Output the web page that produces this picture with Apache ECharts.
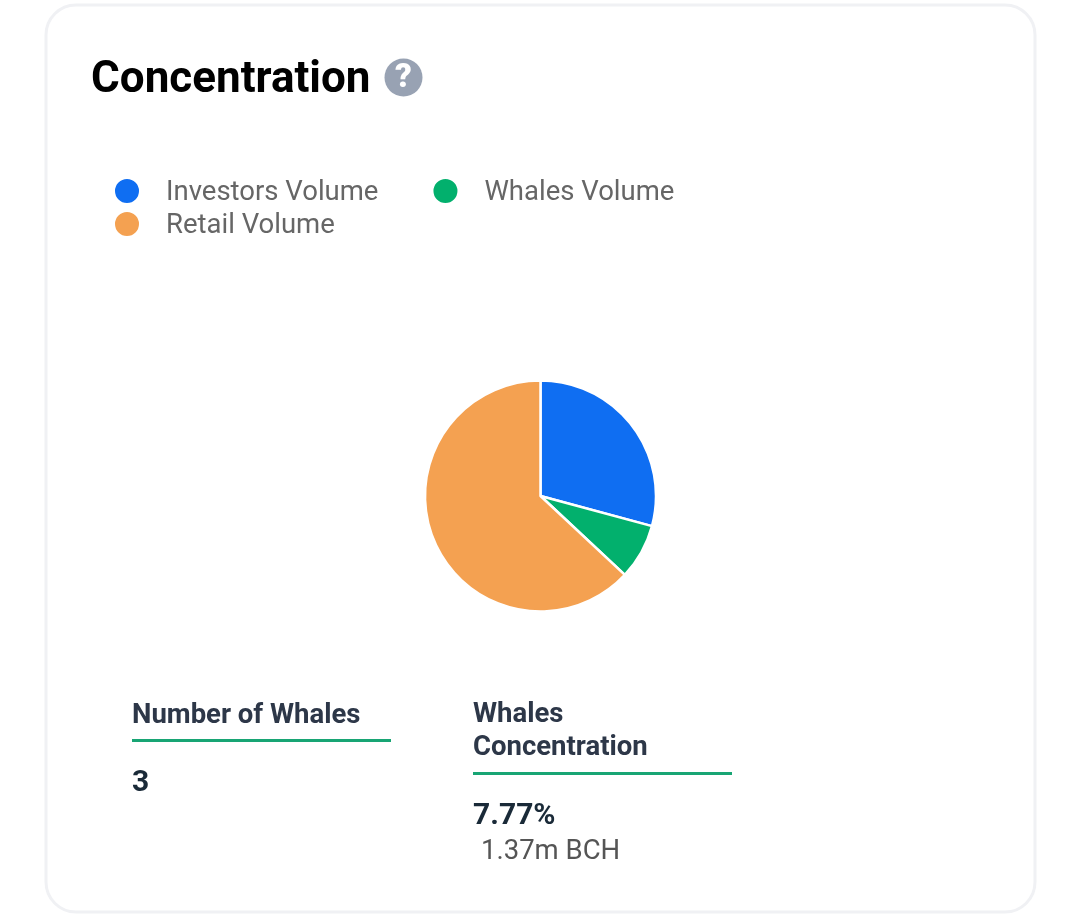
<!DOCTYPE html>
<html>
<head>
<meta charset="utf-8">
<style>html,body{margin:0;padding:0;background:#fff}#chart{width:1073px;height:917px}</style>
<script src="https://cdn.jsdelivr.net/npm/echarts@6/dist/echarts.min.js"></script>
</head>
<body>
<div id="chart"></div>
<script>
const categories = ['Investors Volume', 'Whales Volume', 'Retail Volume'];
const volumeShares = [29.2, 7.77, 63.03];
const sliceColors = ['#0f6ef2', '#02b06d', '#f4a151'];
const titleText = 'Concentration';
const whalesCountLabel = 'Number of Whales';
const whalesCountValue = '3';
const concentrationLabel = 'Whales\nConcentration';
const concentrationValue = '7.77%';
const concentrationAmount = '1.37m BCH';

const font = 'Roboto';
const chart = echarts.init(document.getElementById('chart'), null, {renderer: 'canvas'});
const legendBase = {
  orient: 'horizontal', icon: 'circle', itemWidth: 26, itemHeight: 26, itemGap: 53, padding: 0,
  selectedMode: false,
  formatter: '{a|{name}}',
  textStyle: {rich: {a: {fontFamily: font, fontSize: 27.5, color: '#666666', padding: [4, 0, 0, 21]}}}
};
function txt(x, y, text, size, weight, fill, lineHeight) {
  return {type: 'text', x, y, silent: true, style: {text, fontFamily: font, fontSize: size, fontWeight: weight, fill, lineHeight: lineHeight || size, textVerticalAlign: 'middle'}};
}
chart.setOption({
  animation: false,
  backgroundColor: '#ffffff',
  color: sliceColors,
  legend: [
    Object.assign({}, legendBase, {left: 113, top: 177, data: categories.slice(0, 2)}),
    Object.assign({}, legendBase, {left: 113, top: 210, data: categories.slice(2)})
  ],
  series: [{
    type: 'pie',
    center: [540.5, 496],
    radius: [0, 115.5],
    startAngle: 90,
    clockwise: true,
    label: {show: false},
    labelLine: {show: false},
    itemStyle: {borderColor: '#ffffff', borderWidth: 2.5},
    data: categories.map((name, i) => ({name, value: volumeShares[i]}))
  }],
  graphic: [
    {type: 'rect', z: -1, silent: true, shape: {x: 46, y: 5, width: 989, height: 907, r: 30},
      style: {fill: '#ffffff', stroke: '#f0f1f4', lineWidth: 3}},
    txt(91, 81, titleText, 44, 700, '#000000'),
    {type: 'circle', silent: true, shape: {cx: 403.5, cy: 77.5, r: 19}, style: {fill: '#98a2b3'}},
    {type: 'text', silent: true, x: 403.5, y: 79, style: {text: '?', fontFamily: font, fontSize: 33, fontWeight: 900, fill: '#ffffff', textAlign: 'center', textVerticalAlign: 'middle'}},
    txt(132, 716, whalesCountLabel, 27.5, 700, '#2d3748'),
    {type: 'rect', silent: true, shape: {x: 132, y: 739, width: 259, height: 3}, style: {fill: '#18a574'}},
    txt(132, 783, whalesCountValue, 30, 700, '#1a2a38'),
    txt(473, 732, concentrationLabel, 27.5, 700, '#2d3748', 33),
    {type: 'rect', silent: true, shape: {x: 473, y: 772, width: 259, height: 3}, style: {fill: '#18a574'}},
    txt(473, 816, concentrationValue, 30, 700, '#1a2a38'),
    txt(481, 852, concentrationAmount, 27.5, 400, '#555555')
  ]
});
</script>
</body>
</html>
